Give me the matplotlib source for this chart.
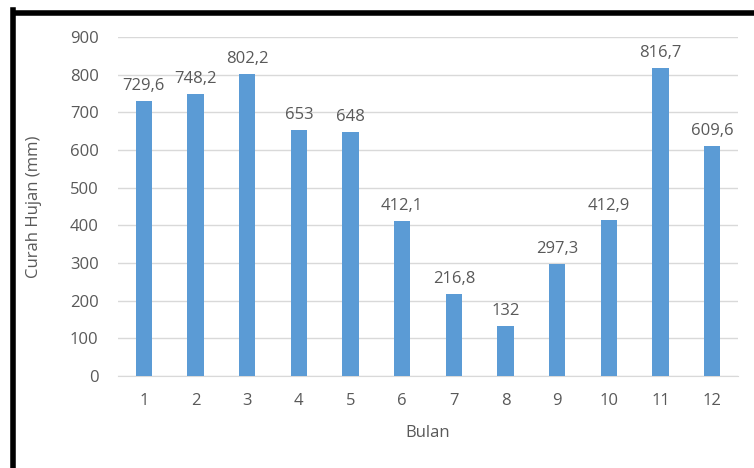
import matplotlib
matplotlib.use("Agg")
import matplotlib.pyplot as plt
from matplotlib.lines import Line2D

months = ["1", "2", "3", "4", "5", "6", "7", "8", "9", "10", "11", "12"]
rainfall = [729.6, 748.2, 802.2, 653, 648, 412.1, 216.8, 132, 297.3, 412.9, 816.7, 609.6]
labels = ["729,6", "748,2", "802,2", "653", "648", "412,1", "216,8", "132", "297,3", "412,9", "816,7", "609,6"]
yticks = [0, 100, 200, 300, 400, 500, 600, 700, 800, 900]

plt.rcParams['font.family'] = ['Open Sans', 'DejaVu Sans']
txt = '#595959'
fs = 12

fig = plt.figure(figsize=(7.54, 4.68), dpi=100)
ax = fig.add_axes([118/754, 1-376/468, 620/754, (376-37)/468])

x = range(len(months))
bars = ax.bar(x, rainfall, width=0.31, color='#5b9bd5', zorder=3)
for xi, v, lab in zip(x, rainfall, labels):
    ax.annotate(lab, (xi, v), xytext=(0, 5), textcoords='offset points',
                ha='center', va='bottom', fontsize=fs, color=txt)

ax.set_xlim(-0.5, len(months)-0.5)
ax.set_ylim(0, 900)
ax.set_yticks(yticks)
ax.set_xticks(list(x))
ax.set_xticklabels(months)
ax.grid(axis='y', color='#d9d9d9', linewidth=1, zorder=0)
for s in ['top', 'right', 'left']:
    ax.spines[s].set_visible(False)
ax.spines['bottom'].set_color('#d9d9d9')
ax.tick_params(axis='both', length=0, labelsize=fs, labelcolor=txt)
ax.tick_params(axis='y', pad=14)
ax.tick_params(axis='x', pad=12)
ax.set_xlabel('Bulan', fontsize=fs, color=txt, labelpad=12)
ax.set_ylabel('Curah Hujan (mm)', fontsize=fs, color=txt, labelpad=20)

# outer frame lines (left and top)
fig.add_artist(Line2D([12.5/754, 12.5/754], [0, 1-10/468], transform=fig.transFigure,
                      color='black', linewidth=4, solid_capstyle='projecting'))
fig.add_artist(Line2D([12.5/754, 1], [1-12.5/468, 1-12.5/468], transform=fig.transFigure,
                      color='black', linewidth=4, solid_capstyle='butt'))

fig.savefig('out.png', dpi=100)
